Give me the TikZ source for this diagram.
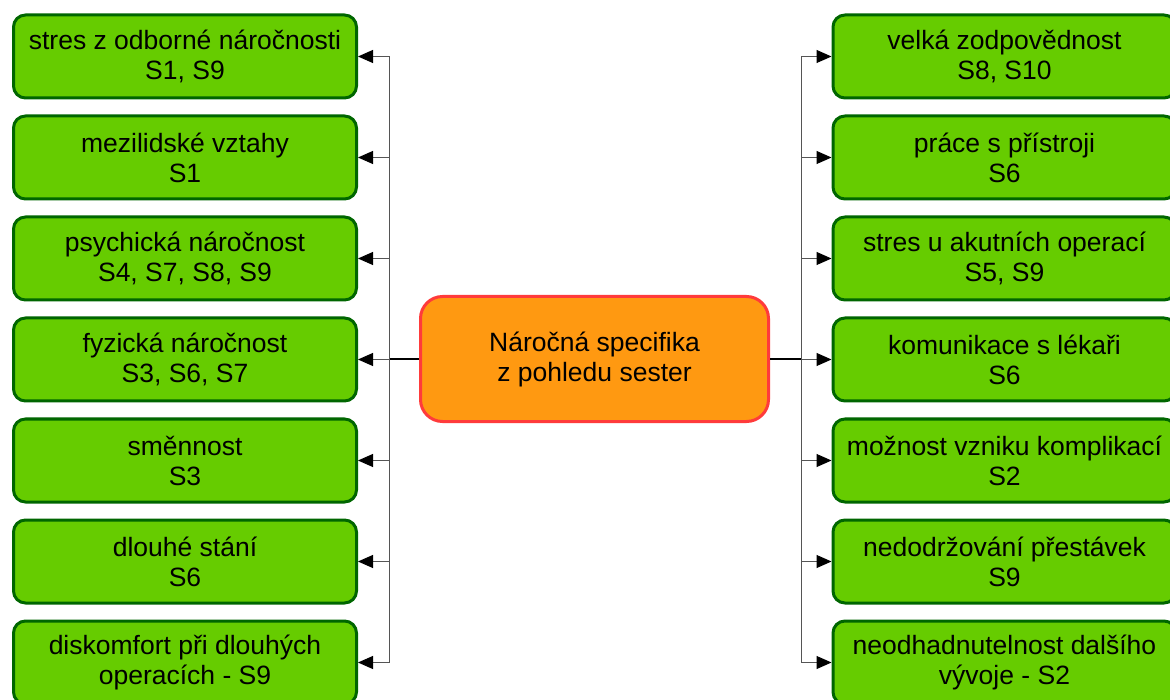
\documentclass[tikz,border=0pt]{standalone}
\usepackage{fontspec}
\setmainfont{Liberation Sans}
\usetikzlibrary{arrows.meta}
\definecolor{leaffill}{HTML}{66CC00}
\definecolor{leafedge}{HTML}{006600}
\definecolor{hubfill}{HTML}{FF9911}
\definecolor{hubedge}{HTML}{FF3B3B}
\definecolor{busline}{HTML}{555555}
\tikzset{
  leaf/.style={draw=leafedge, fill=leaffill, line width=3pt, rounded corners=12pt,
    minimum width=343pt, minimum height=83pt, align=center, inner sep=0pt,
    font=\fontsize{26.5}{30}\selectfont},
  hub/.style={draw=hubedge, fill=hubfill, line width=3pt, rounded corners=22pt,
    minimum width=348pt, minimum height=125pt, align=center, inner sep=0pt,
    font=\fontsize{26.5}{30}\selectfont},
  link/.style={draw=busline, line width=1pt,
    -{Triangle[length=15pt,width=13pt,color=black,fill=black]}},
  stub/.style={draw=black, line width=1.8pt}
}
\begin{document}
\begin{tikzpicture}[x=1pt,y=-1pt]
\useasboundingbox (0,0) rectangle (1170,700);

% central topic
\node[hub] (hub) at (594.5,359) {Náročná specifika\\z pohledu sester};

% left branch
\node[leaf] (L1) at (185,56.5)  {stres z odborné náročnosti\\S1, S9};
\node[leaf] (L2) at (185,157.5) {mezilidské vztahy\\S1};
\node[leaf] (L3) at (185,258.5) {psychická náročnost\\S4, S7, S8, S9};
\node[leaf] (L4) at (185,359.5) {fyzická náročnost\\S3, S6, S7};
\node[leaf] (L5) at (185,460.5) {směnnost\\S3};
\node[leaf] (L6) at (185,561.5) {dlouhé stání\\S6};
\node[leaf] (L7) at (185,662.5) {diskomfort při dlouhých\\operacích - S9};

% right branch
\node[leaf] (R1) at (1004.5,56.5)  {velká zodpovědnost\\S8, S10};
\node[leaf] (R2) at (1004.5,157.5) {práce s přístroji\\S6};
\node[leaf] (R3) at (1004.5,258.5) {stres u akutních operací\\S5, S9};
\node[leaf] (R4) at (1004.5,359.5) {komunikace s lékaři\\S6};
\node[leaf] (R5) at (1004.5,460.5) {možnost vzniku komplikací\\S2};
\node[leaf] (R6) at (1004.5,561.5) {nedodržování přestávek\\S9};
\node[leaf] (R7) at (1004.5,662.5) {neodhadnutelnost dalšího\\vývoje - S2};

% bus junctions
\coordinate (lbus) at (389,359);
\coordinate (rbus) at (801,359);

% connectors
\draw[stub] (hub.west) -- (lbus);
\draw[stub] (hub.east) -- (rbus);
\foreach \n in {L1,L2,L3,L4,L5,L6,L7}
  \draw[link] (lbus) |- (\n.east);
\foreach \n in {R1,R2,R3,R4,R5,R6,R7}
  \draw[link] (rbus) |- (\n.west);
\end{tikzpicture}
\end{document}
